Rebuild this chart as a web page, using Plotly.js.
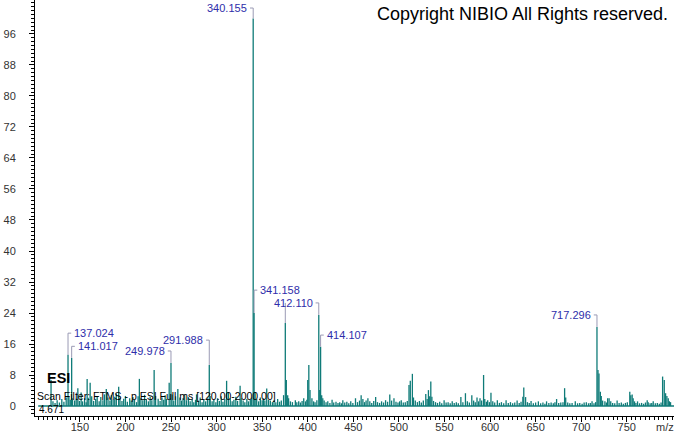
<!DOCTYPE html>
<html>
<head>
<meta charset="utf-8">
<script src="https://cdn.plot.ly/plotly-3.0.1.min.js"></script>
<style>html,body{margin:0;padding:0;background:#fff;}#chart{width:674px;height:434px;}</style>
</head>
<body>
<div id="chart"></div>
<script>
// ---- data: m/z and relative abundance ----
const mz = [
118.4,120.5,122.8,125.1,127.6,130.2,132.5,135.0,137.024,138.0,139.5,141.017,142.0,144.3,146.0,147.8,149.5,151.4,153.0,155.2,
156.9,158.0,159.2,161.3,163.0,165.1,167.4,169.0,171.2,173.0,175.3,177.0,179.0,180.9,183.0,184.6,186.5,188.3,190.0,192.6,
194.0,196.2,198.1,200.0,202.1,204.7,206.3,208.2,210.0,212.2,213.9,215.3,217.0,219.1,221.0,223.0,225.2,227.1,229.0,231.5,
233.1,235.9,238.0,240.1,242.0,243.6,245.0,248.0,249.978,251.1,253.0,255.0,257.5,259.8,261.5,263.2,265.0,267.0,269.1,271.0,
273.2,275.0,276.9,278.0,280.2,282.0,284.1,286.0,288.0,290.0,291.988,293.0,295.1,297.0,299.2,301.0,303.0,305.1,307.0,309.0,
311.0,312.9,315.0,317.1,319.0,321.1,323.0,325.8,327.0,329.1,331.0,333.2,335.0,337.0,338.5,340.155,341.158,342.3,344.0,346.1,
348.0,350.0,351.5,353.0,355.0,357.0,359.0,361.2,363.0,365.0,367.0,369.1,371.0,373.5,375.4,376.5,378.0,379.0,381.0,383.2,
386.4,388.0,390.1,392.0,393.8,395.6,397.5,399.0,400.0,401.2,402.5,404.6,406.4,408.0,410.0,412.110,413.2,414.107,415.3,416.5,
418.0,420.1,422.0,424.3,426.7,428.5,431.0,433.2,435.1,437.0,438.5,440.6,442.9,445.0,447.2,449.5,452.4,454.6,456.8,458.6,
460.5,462.3,464.0,466.0,468.1,470.2,472.4,474.5,476.5,478.8,481.0,483.2,485.4,487.6,490.0,492.0,494.6,496.8,499.0,500.8,
502.6,504.8,507.0,509.2,511.1,512.5,514.8,516.0,518.0,520.3,522.5,524.6,526.8,529.5,531.0,532.4,533.8,535.0,536.2,538.0,
540.2,542.4,544.8,547.0,549.6,551.8,554.0,556.3,558.5,560.7,563.0,565.2,568.0,570.2,573.0,575.1,577.3,580.0,582.0,583.8,
585.7,587.4,589.0,590.8,592.9,594.2,596.0,597.4,599.3,601.0,603.0,605.1,608.0,610.3,612.5,615.0,617.6,620.0,622.4,624.8,
627.1,629.7,632.0,634.0,636.0,637.0,639.0,641.0,643.0,645.0,647.5,650.0,653.0,655.5,658.0,660.2,662.0,664.5,667.0,669.4,
671.2,673.0,675.3,677.6,680.0,681.8,683.0,685.2,687.5,690.0,693.5,696.0,698.4,701.0,703.2,705.6,708.0,710.0,711.9,714.0,
715.8,717.296,718.4,719.5,721.0,722.0,723.5,726.0,727.6,729.0,730.6,732.4,734.5,736.8,739.4,741.6,744.0,746.2,748.5,750.6,
753.3,754.4,755.9,757.0,758.5,760.0,761.8,764.0,766.3,768.5,770.5,772.4,773.5,775.6,777.4,779.0,781.3,783.5,785.7,787.6,
789.3,791.1,792.6,794.0,795.5,796.7,798.0
];
const intensity = [
6.7,1.2,0.8,1.5,0.9,1.8,1.1,2.2,13.2,2.4,1.6,12.4,2.0,1.4,1.9,4.6,1.3,3.5,1.2,2.0,
1.0,7.0,2.1,6.0,2.5,1.3,1.8,2.6,1.2,2.3,1.5,3.0,4.4,2.2,1.4,2.8,1.6,2.4,3.2,5.0,
2.1,1.3,1.9,2.6,1.1,2.0,1.4,2.3,1.6,1.0,2.5,7.0,2.0,1.5,2.9,1.8,1.2,2.4,1.5,9.3,
2.6,1.9,1.3,2.2,1.6,2.8,1.8,6.0,11.1,3.0,1.4,2.5,4.4,2.2,1.4,2.0,3.0,1.5,2.3,1.2,
1.8,1.0,1.6,3.0,1.4,2.2,1.0,1.7,1.2,2.0,10.6,2.6,1.2,1.7,1.0,2.0,1.3,2.5,1.1,1.8,
6.5,3.6,2.0,1.2,1.6,2.4,1.3,5.2,2.0,1.4,1.0,1.8,1.2,1.6,2.2,100,24.0,3.6,1.8,1.2,
2.2,1.5,2.0,1.4,4.5,1.6,1.4,1.0,1.5,1.0,1.8,1.1,1.4,2.8,21.4,6.7,2.8,2.0,1.2,1.0,
1.5,1.0,1.2,0.9,1.3,2.0,1.2,1.6,6.7,10.6,4.1,2.0,1.2,1.0,1.5,23.5,4.1,15.3,2.8,2.0,
1.4,1.0,1.2,0.8,1.6,0.9,1.1,0.8,1.0,0.7,1.5,0.9,1.1,0.7,1.2,0.8,2.0,1.0,1.4,2.8,
1.8,1.0,1.4,2.0,1.2,0.8,1.3,2.3,1.0,0.8,1.2,0.9,1.5,1.1,3.0,1.4,2.0,1.1,0.9,1.2,
1.5,0.9,1.0,1.3,5.4,6.5,8.3,2.2,1.4,1.0,1.3,0.9,1.4,3.1,1.8,4.1,2.5,6.3,2.4,1.3,
1.0,0.8,1.1,0.7,1.5,0.9,1.0,0.7,1.2,0.8,1.0,0.7,2.3,1.0,3.3,1.2,0.9,2.8,1.4,1.0,
2.2,1.2,2.0,1.4,8.0,1.8,1.1,1.5,1.0,3.4,1.2,0.9,1.5,0.8,1.0,0.7,1.5,0.8,1.0,0.7,
0.9,1.4,0.8,1.1,2.4,4.8,2.3,1.0,0.8,1.3,0.7,0.9,1.2,0.7,0.9,0.6,1.2,0.8,0.9,0.7,
1.0,1.8,0.8,0.9,1.0,4.6,2.2,0.9,0.7,0.8,1.2,0.7,0.8,0.6,0.9,1.0,0.7,0.8,1.2,0.7,
1.0,20.4,9.3,8.4,3.7,2.6,1.4,1.2,0.9,2.0,2.0,1.2,0.8,0.7,1.4,0.8,0.9,0.6,0.8,1.0,
3.7,2.8,3.0,2.0,1.2,0.8,1.2,0.7,0.8,0.6,0.9,1.5,1.0,0.7,0.8,1.2,0.7,0.8,0.6,0.9,
7.6,6.7,3.3,2.6,2.0,1.2,1.0
];

// labelled peaks
const labelMz = [137.024, 141.017, 249.978, 291.988, 340.155, 341.158, 412.110, 414.107, 717.296];
const bracketOnlyMz = [375.4];

// axis ticks
const xTickVals = [150, 200, 250, 300, 350, 400, 450, 500, 550, 600, 650, 700, 750];
const yTickVals = [0, 8, 16, 24, 32, 40, 48, 56, 64, 72, 80, 88, 96];

// ---- placement of the peak labels (height of label, side of text) ----
const labelLevel = [18.8, 15.4, 14.2, 17.0, 102.7, 29.9, 26.6, 18.3, 23.5];
const labelSide  = ['right','right','left','left','left','right','left','right','left'];
const bracketOnlyLevel = [26.6];

const TEAL = '#0f7b78';
const LABEL_BLUE = '#2e2eaa';
const BRACKET = '#9a9ab4';
const FONT = 'Liberation Sans, Arial, sans-serif';

function intensityAt(m) {
  let best = 0, bd = 1e9;
  for (let i = 0; i < mz.length; i++) {
    const d = Math.abs(mz[i] - m);
    if (d < bd) { bd = d; best = intensity[i]; }
  }
  return best;
}

// sticks
const sx = [], sy = [];
for (let i = 0; i < mz.length; i++) {
  sx.push(mz[i], mz[i], null);
  sy.push(0, intensity[i], null);
}

const traces = [{
  type: 'scatter', mode: 'lines', x: sx, y: sy,
  line: {color: TEAL, width: 1.3}, hoverinfo: 'skip', connectgaps: false
}];

const shapes = [{
  type: 'line', xref: 'paper', x0: 0.005, x1: 1, yref: 'y', y0: 0, y1: 0,
  line: {color: TEAL, width: 1.5}, layer: 'below'
}];
const annotations = [];

labelMz.forEach((m, i) => {
  const peak = intensityAt(m);
  const lvl = labelLevel[i];
  const dir = labelSide[i] === 'right' ? 1 : -1;
  shapes.push({type: 'line', xref: 'x', yref: 'y', x0: m, x1: m, y0: peak, y1: lvl,
    line: {color: BRACKET, width: 1}});
  shapes.push({type: 'line', xref: 'x', yref: 'y', x0: m, x1: m + dir * 3.5, y0: lvl, y1: lvl,
    line: {color: BRACKET, width: 1}});
  annotations.push({
    xref: 'x', yref: 'y', x: m, y: lvl, text: m.toFixed(3), showarrow: false,
    xanchor: dir === 1 ? 'left' : 'right', yanchor: 'middle', xshift: dir * 4,
    font: {family: FONT, size: 11, color: LABEL_BLUE}
  });
});
bracketOnlyMz.forEach((m, i) => {
  shapes.push({type: 'line', xref: 'x', yref: 'y', x0: m, x1: m, y0: intensityAt(m), y1: bracketOnlyLevel[i],
    line: {color: BRACKET, width: 1}});
});

// free texts
annotations.push(
  {xref: 'paper', yref: 'paper', x: 0.994, y: 0.9663, xanchor: 'right', yanchor: 'middle', showarrow: false,
   text: 'Copyright NIBIO All Rights reserved.', font: {family: FONT, size: 18, color: '#000'}},
  {xref: 'paper', yref: 'paper', x: 0.015, y: 0.0913, xanchor: 'left', yanchor: 'middle', showarrow: false,
   text: '<b>ESI</b>', font: {family: FONT, size: 14.5, color: '#000'}},
  {xref: 'paper', yref: 'paper', x: 0.0, y: 0.048, xanchor: 'left', yanchor: 'middle', showarrow: false,
   text: 'Scan Filter: FTMS - p ESI Full ms [120.00-2000.00]', font: {family: FONT, size: 10.5, color: '#000'}},
  {xref: 'paper', yref: 'paper', x: 0.003, y: 0.0165, xanchor: 'left', yanchor: 'middle', showarrow: false,
   text: '4.671', font: {family: FONT, size: 10, color: '#000'}},
  {xref: 'paper', yref: 'paper', x: 0.968, y: -0.027, xanchor: 'left', yanchor: 'middle', showarrow: false,
   text: 'm/z', font: {family: FONT, size: 11, color: '#333'}}
);

const layout = {
  width: 674, height: 434,
  margin: {l: 35, r: 0, t: 0, b: 18, pad: 0},
  paper_bgcolor: '#fff', plot_bgcolor: '#fff',
  showlegend: false,
  font: {family: FONT, size: 11, color: '#333'},
  xaxis: {
    range: [100.8, 801.8], showgrid: false, zeroline: false,
    showline: true, linecolor: '#000', linewidth: 1,
    ticks: 'outside', ticklen: 5, tickcolor: '#000', tickwidth: 1,
    tickmode: 'array', tickvals: xTickVals, ticktext: xTickVals.map(String),
    tickfont: {family: FONT, size: 11, color: '#333'},
    ticklabelstandoff: -4,
    minor: {ticks: 'outside', ticklen: 3, tickcolor: '#000', dtick: 5, tick0: 0, showgrid: false},
    fixedrange: true
  },
  yaxis: {
    range: [-2.58, 104.77], showgrid: false, zeroline: false,
    showline: true, linecolor: '#000', linewidth: 1,
    ticks: 'outside', ticklen: 5, tickcolor: '#000', tickwidth: 1,
    tickmode: 'array', tickvals: yTickVals, ticktext: yTickVals.map(String),
    tickfont: {family: FONT, size: 11, color: '#333'},
    ticklabelstandoff: 11,
    minor: {ticks: 'outside', ticklen: 3, tickcolor: '#000', dtick: 1, tick0: 0, showgrid: false},
    fixedrange: true
  },
  shapes: shapes,
  annotations: annotations
};

Plotly.newPlot('chart', traces, layout, {displayModeBar: false, staticPlot: true});
</script>
</body>
</html>
